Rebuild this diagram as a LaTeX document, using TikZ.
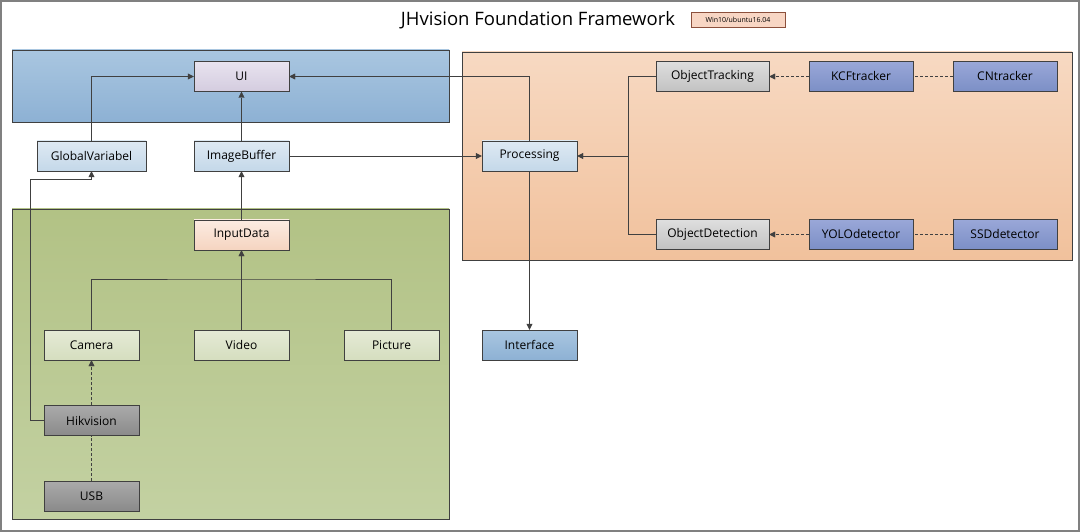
\documentclass[tikz,border=0pt]{standalone}
\usepackage{fontspec}
\setmainfont{Open Sans}
\usepackage{tikz}
\usepackage{xcolor}
\usetikzlibrary{arrows.meta}
\definecolor{linegray}{HTML}{404040}
\definecolor{blueTop}{HTML}{A9C6E0}
\definecolor{blueBot}{HTML}{8DB1D4}
\definecolor{greenTop}{HTML}{B2C285}
\definecolor{greenBot}{HTML}{C3D1A2}
\definecolor{orangeTop}{HTML}{F7D9C2}
\definecolor{orangeBot}{HTML}{F1C19C}
\tikzset{
    base-box/.style = {draw=linegray, thin, rectangle, minimum width=95pt, minimum height=30pt, inner sep=2pt, font=\fontsize{12}{14}\selectfont},
    wide-box/.style = {base-box, minimum width=113pt},
    mid-box/.style = {base-box, minimum width=104pt},
    ui-box/.style = {base-box, top color={rgb,255:red,232;green,227;blue,239}, bottom color={rgb,255:red,212;green,204;blue,223}},
    pale-box/.style = {base-box, top color={rgb,255:red,222;green,233;blue,243}, bottom color={rgb,255:red,196;green,216;blue,233}},
    peach-box/.style = {base-box, top color={rgb,255:red,252;green,236;blue,226}, bottom color={rgb,255:red,245;green,212;blue,192}},
    leaf-box/.style = {base-box, top color={rgb,255:red,229;green,234;blue,214}, bottom color={rgb,255:red,213;green,222;blue,191}},
    dark-box/.style = {base-box, top color={rgb,255:red,170;green,170;blue,170}, bottom color={rgb,255:red,138;green,138;blue,138}},
    grey-box/.style = {wide-box, top color={rgb,255:red,222;green,222;blue,222}, bottom color={rgb,255:red,194;green,194;blue,194}},
    algo-box/.style = {mid-box, top color={rgb,255:red,153;green,167;blue,216}, bottom color={rgb,255:red,124;green,143;blue,198}},
    group-area/.style = {draw=linegray, thin, rectangle},
    link/.style = {draw=linegray, thin, -{Triangle[length=6pt, width=6pt]}},
    dash-link/.style = {link, densely dashed},
}

\begin{document}
\begin{tikzpicture}[x=1pt, y=-1pt]
\useasboundingbox (0,0) rectangle (1080,532);
\draw[gray, line width=1.5pt, fill=white] (1,1) rectangle (1079,531);
% title
\node (title) at (538,20) {\fontsize{18.5}{22}\selectfont JHvision Foundation Framework};
\node[draw={rgb,255:red,140;green,80;blue,60}, fill={rgb,255:red,248;green,214;blue,196}, minimum width=94pt, minimum height=15pt, inner sep=1pt, font=\fontsize{7}{8}\selectfont] (tag) at (738,20) {Win10/ubuntu16.04};

% areas
\path[group-area, top color=blueTop, bottom color=blueBot] (12,50) rectangle (449,122);
\path[group-area, top color=greenTop, bottom color=greenBot] (12,209) rectangle (449,519);
\path[group-area, top color=orangeTop, bottom color=orangeBot] (462,52) rectangle (1072,260);

% nodes
\node[ui-box] (ui) at (241.5,76.5) {UI};
\node[pale-box, minimum width=109pt] (global) at (91.5,156) {GlobalVariabel};
\node[pale-box] (buffer) at (241.5,156) {ImageBuffer};
\node[peach-box] (input) at (241.5,235) {InputData};
\node[leaf-box] (camera) at (91.5,345) {Camera};
\node[leaf-box] (video) at (241.5,345) {Video};
\node[leaf-box] (picture) at (391.5,345) {Picture};
\node[dark-box] (hik) at (91.5,420.5) {Hikvision};
\node[dark-box] (usb) at (91.5,496) {USB};
\node[pale-box] (proc) at (529.5,156) {Processing};
\node[base-box, top color=blueTop, bottom color=blueBot] (iface) at (529.5,345) {Interface};
\node[grey-box] (track) at (712.5,76.5) {ObjectTracking};
\node[grey-box] (detect) at (712.5,234.5) {ObjectDetection};
\node[algo-box] (kcf) at (861,76.5) {KCFtracker};
\node[algo-box] (cn) at (1005,76.5) {CNtracker};
\node[algo-box] (yolo) at (861,234.5) {YOLOdetector};
\node[algo-box] (ssd) at (1005,234.5) {SSDdetector};

% connectors
\draw[link] (global.north) |- (ui.west);
\draw[link] (buffer) -- (ui);
\draw[link] (buffer) -- (proc);
\draw[link] (proc.north) |- (ui.east);
\draw[link] (proc) -- (iface);
\draw[link] (input) -- (buffer);
\draw[link] (track.west) -| (628,156) -- (proc.east);
\draw[thin, linegray] (detect.west) -| (628,156);
\draw[dash-link] (kcf) -- (track);
\draw[densely dashed, thin, linegray] (cn) -- (kcf);
\draw[dash-link] (yolo) -- (detect);
\draw[densely dashed, thin, linegray] (ssd) -- (yolo);
\draw[thin, linegray] (camera.north) |- (241.5,279) -| (picture.north);
\draw[link] (video) -- (input);
\draw[dash-link] (hik) -- (camera);
\draw[densely dashed, thin, linegray] (usb) -- (hik);
\draw[link] (hik.west) -| (30,179) -| (global.south);
\end{tikzpicture}
\end{document}
